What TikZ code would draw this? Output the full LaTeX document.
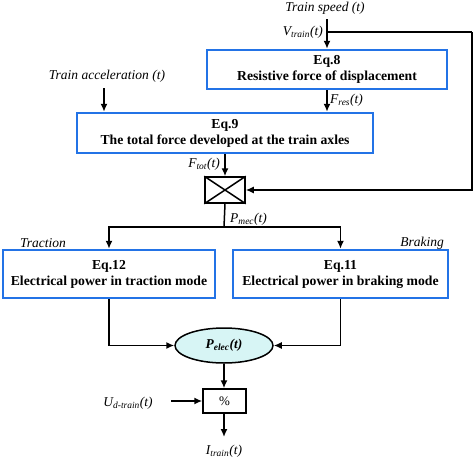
\documentclass[tikz,border=0pt]{standalone}
\usepackage{fontspec}
\setmainfont{Liberation Serif}
\usetikzlibrary{arrows.meta,shapes.geometric}
\definecolor{eqblue}{RGB}{35,115,230}
\definecolor{elecfill}{RGB}{215,245,245}
\tikzset{
	eqbox/.style={draw=eqblue,line width=2.5pt,align=center,inner sep=0pt,
		font=\fontsize{13.7}{16}\selectfont\bfseries,
		execute at begin node={\rule{0pt}{14pt}}},
	opbox/.style={draw,line width=1.5pt,inner sep=0pt},
	lbl/.style={font=\fontsize{13.5}{15}\selectfont\itshape,inner sep=1pt},
	arr/.style={line width=1.5pt,-{Latex[length=8pt,width=7pt]}},
	ln/.style={line width=1.5pt}
}
\begin{document}
\begin{tikzpicture}[x=1pt,y=-1pt]
\useasboundingbox (0,0) rectangle (474,458);
% equation blocks
\node[eqbox,minimum width=240pt,minimum height=39pt] (eqeight) at (327,69.5) {Eq.8\\Resistive force of displacement};
\node[eqbox,minimum width=296pt,minimum height=40pt] (eqnine) at (225,133) {Eq.9\\The total force developed at the train axles};
\node[eqbox,minimum width=212pt,minimum height=48pt] (eqtwelve) at (109,274) {Eq.12\\Electrical power in traction mode};
\node[eqbox,minimum width=215pt,minimum height=48pt] (eqeleven) at (340.5,274) {Eq.11\\Electrical power in braking mode};
% operators
\node[opbox,minimum width=40pt,minimum height=26pt] (mult) at (225,190) {};
\draw[ln] (mult.north west) -- (mult.south east);
\draw[ln] (mult.south west) -- (mult.north east);
\node[ellipse,draw,line width=1.5pt,fill=elecfill,minimum width=98pt,minimum height=35pt,inner sep=0pt,
	font=\fontsize{13.5}{15}\selectfont\bfseries\itshape] (pelec) at (224,345.5) {P\textsubscript{elec}(t)};
\node[opbox,minimum width=43pt,minimum height=24pt,font=\fontsize{13}{14}\selectfont] (divide) at (224.5,401) {\%};
% labels
\node[lbl] (speed) at (325,8) {Train speed (t)};
\node[lbl] (accel) at (107,76) {Train acceleration (t)};
\node[lbl,anchor=east] (vtrain) at (324,32) {V\textsubscript{train}(t)};
\node[lbl,anchor=west] (fres) at (329,100) {F\textsubscript{res}(t)};
\node[lbl,anchor=east] (ftot) at (221,164) {F\textsubscript{tot}(t)};
\node[lbl,anchor=west] (pmec) at (229,219) {P\textsubscript{mec}(t)};
\node[lbl] (traction) at (43,243) {Traction};
\node[lbl] (braking) at (422,243) {Braking};
\node[lbl] (udtrain) at (128,403) {U\textsubscript{d-train}(t)};
\node[lbl] (itrain) at (224,451) {I\textsubscript{train}(t)};
% connectors
\coordinate (spin) at (327,19);
\coordinate (branch) at (327,32);
\coordinate (fbk) at (472,32);
\coordinate (split) at (224,227);
\coordinate (accin) at (104,88);
\coordinate (udin) at (171,401);
\coordinate (iout) at (224,437);
\draw[arr] (spin) -- (eqeight.north -| spin);
\draw[ln] (branch) -- (fbk);
\draw[arr] (fbk) |- (mult.east);
\draw[arr] (accin) -- (eqnine.north -| accin);
\draw[arr] (eqeight.south -| spin) -- (eqnine.north -| spin);
\draw[arr] (eqnine.south -| mult) -- (mult.north);
\draw[ln] (mult.south) -- (split);
\draw[arr] (split) -| (eqtwelve.north);
\draw[arr] (split) -| (eqeleven.north);
\draw[arr] (eqtwelve.south) |- (pelec.west);
\draw[arr] (eqeleven.south) |- (pelec.east);
\draw[arr] (pelec.south) -- (divide.north -| pelec);
\draw[arr] (udin) -- (divide.west);
\draw[arr] (divide.south -| iout) -- (iout);
\end{tikzpicture}
\end{document}
